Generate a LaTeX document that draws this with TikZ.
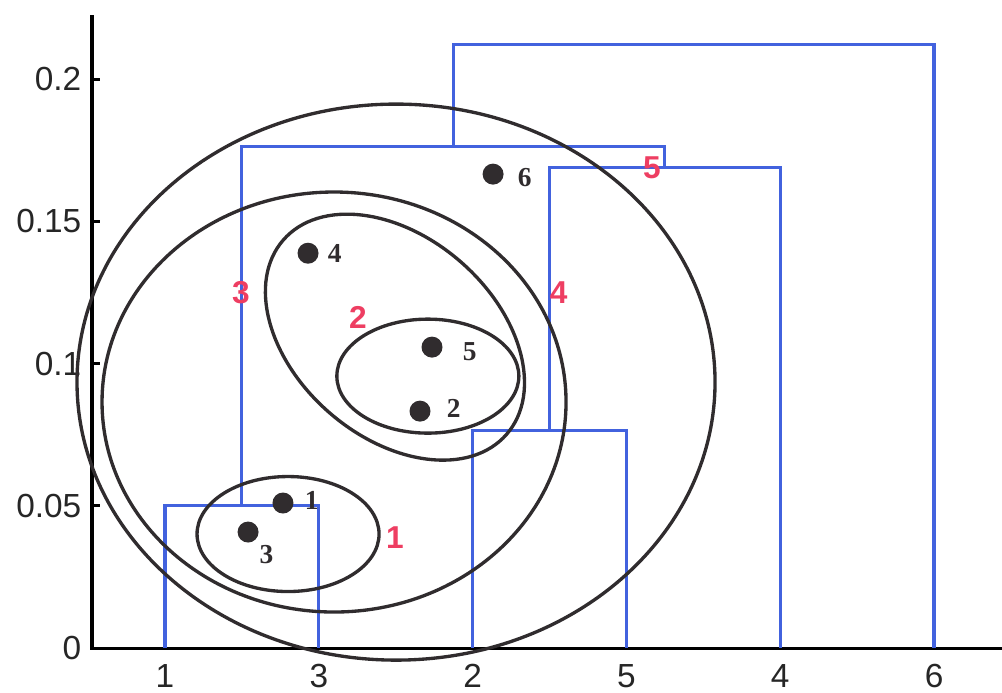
\documentclass[tikz,border=0pt]{standalone}
\usepackage{fontspec}
\setmainfont{Liberation Sans}
\newfontfamily\pontbetu{Liberation Serif}
\usetikzlibrary{positioning}
\definecolor{dkek}{RGB}{66,98,222}
\definecolor{piros}{RGB}{238,62,98}
\definecolor{sotet}{RGB}{48,44,46}
\tikzset{
  pont/.style={circle,fill=sotet,inner sep=0pt,minimum size=2.1mm},
  nev/.style={inner sep=0pt,font=\pontbetu\bfseries\fontsize{7.8}{8}\selectfont,text=sotet},
  szint/.style={inner sep=0pt,font=\bfseries\fontsize{9}{10}\selectfont,text=piros},
  szam/.style={inner sep=0pt,font=\fontsize{9.5}{10}\selectfont,text=black!85},
  kek/.style={draw=dkek,line width=0.9pt},
  kor/.style={draw=sotet,line width=0.95pt},
  tengely/.style={draw=black,line width=0.9pt},
}

\begin{document}
\begin{tikzpicture}[x=1.538cm,y=0.2845cm]
  \useasboundingbox (-0.0728,-1.547) rectangle (6.442,22.78);
  \draw[tengely] (0.525,22.25) -- (0.525,0) -- (6.442,0);
  \node[szam,anchor=east] at (0.46,0) {0};
  \foreach \v/\t in {5/0.05,10/0.1,15/0.15,20/0.2}{
    \draw[tengely] (0.525,\v) -- (0.58,\v);
    \node[szam,anchor=east] at (0.46,\v) {\t};
  }
  \foreach \k/\n in {1/1,2/3,3/2,4/5,5/4,6/6}{
    \coordinate (l\n) at (\k,0);
    \node[szam] at (\k,-0.98) {\n};
  }
  \coordinate (m1) at (1.5,5);
  \coordinate (m2) at (3.5,7.66);
  \coordinate (m3) at (4.25,16.9);
  \coordinate (m4) at (2.875,17.63);
  \coordinate (m5) at (4.4375,21.23);
  \draw[kek] (l1) |- (m1) -| (l3);
  \draw[kek] (l2) |- (m2) -| (l5);
  \draw[kek] (m2) |- (m3) -| (l4);
  \draw[kek] (m1) |- (m4) -| (m3);
  \draw[kek] (m4) |- (m5) -| (l6);

  \coordinate (c1) at (1.800,4.01);
  \coordinate (c2) at (2.709,9.56);
  \coordinate (c3) at (2.495,10.93);
  \coordinate (c4) at (2.099,8.65);
  \coordinate (c5) at (2.502,9.35);
  \draw[kor] (c1) ellipse [x radius=0.91cm, y radius=0.575cm];
  \draw[kor] (c2) ellipse [x radius=0.91cm, y radius=0.57cm];
  \draw[kor,rotate around={-41:(c3)}] (c3) ellipse [x radius=1.48cm, y radius=1cm];
  \draw[kor] (c4) ellipse [x radius=2.32cm, y radius=2.10cm];
  \draw[kor] (c5) ellipse [x radius=3.19cm, y radius=2.78cm];

  \node[pont] (p1) at (1.767,5.10) {};
  \node[pont] (p3) at (1.540,4.08) {};
  \node[pont] (p4) at (1.930,13.88) {};
  \node[pont] (p5) at (2.736,10.58) {};
  \node[pont] (p2) at (2.658,8.33) {};
  \node[pont] (p6) at (3.133,16.66) {};
  \node[nev,right=1mm of p1,yshift=0.3mm] {1};
  \node[nev,below right=0.5mm and 0.3mm of p3] {3};
  \node[nev,right=0.8mm of p4] {4};
  \node[nev,right=1.9mm of p5,yshift=-0.5mm] {5};
  \node[nev,right=1.5mm of p2,yshift=0.3mm] {2};
  \node[nev,right=1.3mm of p6,yshift=-0.3mm] {6};

  \node[szint] at (2.495,3.90) {1};
  \node[szint] at (2.255,11.63) {2};
  \node[szint] at (1.494,12.48) {3};
  \node[szint] at (3.56,12.48) {4};
  \node[szint] at (4.166,16.87) {5};
\end{tikzpicture}
\end{document}
